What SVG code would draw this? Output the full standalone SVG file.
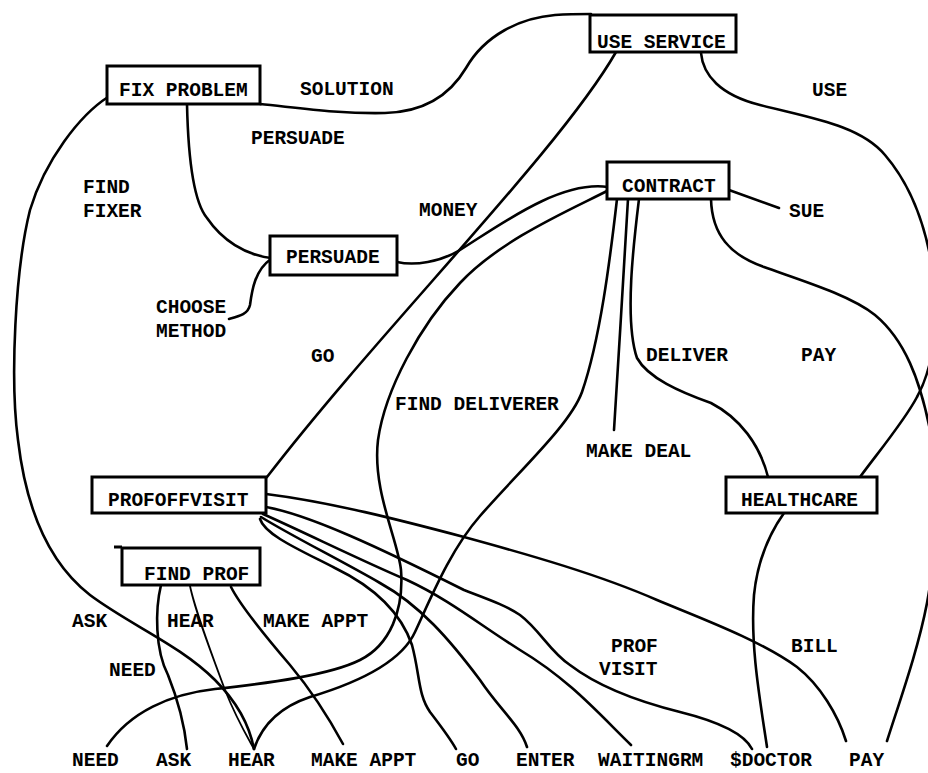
<svg xmlns="http://www.w3.org/2000/svg" width="928" height="773" viewBox="0 0 928 773">
<style>
.box{fill:#fff;stroke:#000;stroke-width:3}
.c path{fill:none;stroke:#000;stroke-width:2.6;stroke-linecap:round;stroke-linejoin:round}
.c path.thin{stroke-width:1.8}
text{font-family:"Liberation Mono","DejaVu Sans Mono",monospace;font-weight:bold;font-size:19.5px;fill:#000}
</style>
<rect width="928" height="773" fill="#fff"/>
<g class="c" id="connectors">
<path d="M260,104 C300,108 340,114 385,113 C425,112 450,95 466,68 C485,35 520,18 555,15 C570,14 580,14 591,14"/>
<path d="M187,104 C188,150 192,200 207,218 C222,240 245,255 271,258"/>
<path d="M229,319 C240,316 248,314 250,305 C252,290 255,270 271,259"/>
<path d="M397,262 C415,266 440,262 460,250 C500,225 560,180 608,187"/>
<path d="M616,52 C560,150 380,330 267,477"/>
<path d="M607,191 C570,210 500,240 460,283 C420,325 385,390 378,440 C372,490 398,540 401,570 C404,610 390,645 360,660 C330,675 270,683 215,689 C170,694 130,712 107,746"/>
<path d="M617,199 C610,260 600,340 582,392 C570,425 520,470 480,516 C450,550 430,600 415,632 C400,665 350,685 310,697 C280,707 262,725 254,749"/>
<path d="M628,199 C625,260 618,360 614,430"/>
<path d="M639,199 C634,240 624,320 637,358 C648,378 680,392 711,403 C740,418 760,445 768,477"/>
<path d="M711,199 C712,235 730,255 764,267 C800,280 850,295 875,315 C905,340 920,380 930,430 C940,500 935,560 927,603 C918,650 900,700 887,741"/>
<path d="M701,53 C703,75 720,95 760,105 C810,118 860,125 885,155 C915,190 930,240 935,290 C938,330 932,370 917,397 C905,420 880,450 860,477"/>
<path d="M729,190 L779,208"/>
<path d="M784,513 C772,530 758,555 754,595 C750,645 760,700 767,747"/>
<path d="M266,494 C330,502 400,520 464,537 C530,555 600,575 657,600 C700,618 760,640 797,667 C820,685 838,715 846,741"/>
<path d="M266,507 C310,515 380,548 464,590 C490,600 505,605 520,615 C540,630 550,652 570,665 C600,688 640,702 680,712 C720,722 745,735 752,749"/>
<path d="M263,514 C310,535 360,560 407,580 C450,600 480,625 520,650 C570,680 600,715 631,745"/>
<path d="M261,517 C290,535 340,560 380,583 C420,605 450,640 480,680 C500,710 520,725 527,747"/>
<path d="M260,519 C265,535 300,550 335,568 C370,585 400,610 412,645 C420,675 418,695 430,712 C440,725 450,738 456,749"/>
<path d="M108,97 C80,115 45,160 30,210 C15,270 10,380 18,440 C25,500 45,560 90,595 C130,625 180,645 215,680 C240,705 250,728 254,749"/>
<path d="M161,585 C155,610 155,650 168,675 C180,705 185,730 187,749"/>
<path class="thin" d="M190,586 C195,610 210,650 225,690 C237,720 248,738 254,749"/>
<path d="M231,587 C240,605 260,630 290,665 C315,695 330,720 343,744"/>
</g>
<g id="fix-problem"><rect class="box" x="107" y="66" width="153" height="38"/><text x="119" y="96">FIX PROBLEM</text></g>
<g id="use-service"><rect class="box" x="590" y="15" width="146" height="37"/><text x="597" y="48">USE SERVICE</text></g>
<g id="contract"><rect class="box" x="607" y="162" width="122" height="37"/><text x="622" y="192">CONTRACT</text></g>
<g id="persuade"><rect class="box" x="270" y="236" width="127" height="39"/><text x="286" y="263">PERSUADE</text></g>
<g id="profoffvisit"><rect class="box" x="92" y="477" width="174" height="36"/><text x="108" y="506">PROFOFFVISIT</text></g>
<g id="find-prof"><rect class="box" x="122" y="548" width="138" height="37"/><path d="M114,547 L122,547" stroke="#000" stroke-width="3"/><text x="144" y="580">FIND PROF</text></g>
<g id="healthcare"><rect class="box" x="726" y="477" width="151" height="36"/><text x="741" y="506">HEALTHCARE</text></g>
<g id="labels">
<text x="300" y="95">SOLUTION</text>
<text x="251" y="144">PERSUADE</text>
<text x="83" y="193">FIND</text>
<text x="83" y="217">FIXER</text>
<text x="419" y="216">MONEY</text>
<text x="812" y="96">USE</text>
<text x="789" y="217">SUE</text>
<text x="156" y="313">CHOOSE</text>
<text x="156" y="337">METHOD</text>
<text x="311" y="362">GO</text>
<text x="395" y="410">FIND DELIVERER</text>
<text x="646" y="361">DELIVER</text>
<text x="801" y="361">PAY</text>
<text x="586" y="457">MAKE DEAL</text>
<text x="72" y="627">ASK</text>
<text x="167" y="627">HEAR</text>
<text x="263" y="627">MAKE APPT</text>
<text x="109" y="676">NEED</text>
<text x="611" y="652">PROF</text>
<text x="599" y="675">VISIT</text>
<text x="791" y="652">BILL</text>
<text x="72" y="766">NEED</text>
<text x="156" y="766">ASK</text>
<text x="228" y="766">HEAR</text>
<text x="311" y="766">MAKE APPT</text>
<text x="456" y="766">GO</text>
<text x="516" y="766">ENTER</text>
<text x="598" y="766">WAITINGRM</text>
<text x="730" y="766">$DOCTOR</text>
<text x="849" y="766">PAY</text>
</g>
</svg>
